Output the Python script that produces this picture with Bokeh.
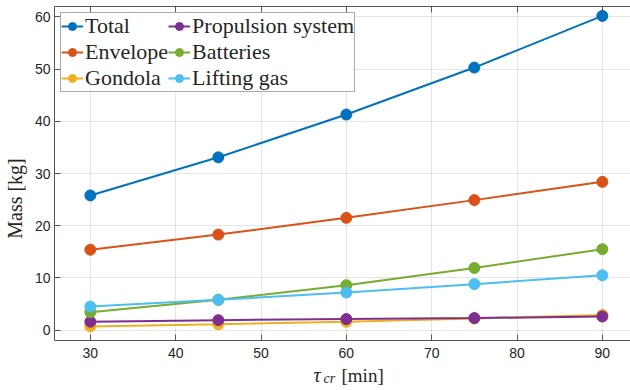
from bokeh.plotting import figure
from bokeh.models import Range1d, LinearAxis, Label, Legend, LegendItem, FixedTicker, BoxAnnotation
from bokeh.embed import file_html
from bokeh.resources import INLINE

tau = [30, 45, 60, 75, 90]
total = [25.8, 33.1, 41.3, 50.3, 60.2]
envelope = [15.4, 18.3, 21.5, 24.9, 28.4]
gondola = [0.7, 1.1, 1.6, 2.2, 2.9]
propulsion = [1.6, 1.9, 2.1, 2.3, 2.6]
batteries = [3.4, 5.8, 8.6, 11.9, 15.5]
lifting_gas = [4.5, 5.8, 7.2, 8.8, 10.5]

series = [
    ("Total", total, "#0072BD"),
    ("Envelope", envelope, "#D95319"),
    ("Gondola", gondola, "#EDB120"),
    ("Propulsion system", propulsion, "#7E2F8E"),
    ("Batteries", batteries, "#77AC30"),
    ("Lifting gas", lifting_gas, "#4DBEEE"),
]
x_ticks = [30, 40, 50, 60, 70, 80, 90]
y_ticks = [0, 10, 20, 30, 40, 50, 60]
x_lim = (25.8, 93.3)
y_lim = (-2, 62)

AX = "#262626"
SERIF = "Liberation Serif"
SANS = "Liberation Sans"

# frame reaches the canvas bottom; the x axis sits at y_lim[0] inside it
y_start = y_lim[0] - 50 / ((340 - 6) / (y_lim[1] - y_lim[0]))
p = figure(width=630, height=390, output_backend="svg", toolbar_location=None,
           x_range=Range1d(*x_lim), y_range=Range1d(y_start, y_lim[1]),
           min_border_left=54, min_border_right=0, min_border_top=6, min_border_bottom=0)
p.background_fill_color = "white"
p.border_fill_color = "white"
p.outline_line_color = None

p.xaxis.fixed_location = y_lim[0]
p.yaxis.bounds = y_lim

for ax, ticks in ((p.xaxis[0], x_ticks), (p.yaxis[0], y_ticks)):
    ax.ticker = FixedTicker(ticks=ticks)
    ax.major_tick_in = 6
    ax.major_tick_out = 0
    ax.minor_tick_line_color = None
    ax.axis_line_color = "#555555"
    ax.major_tick_line_color = "#555555"
    ax.major_label_text_font = SANS
    ax.major_label_text_font_size = "14px"
    ax.major_label_text_color = AX

p.xaxis.major_label_standoff = 7
p.yaxis.major_label_standoff = 4
p.yaxis.axis_label = "Mass [kg]"
p.yaxis.axis_label_text_font = SERIF
p.yaxis.axis_label_text_font_size = "20px"
p.yaxis.axis_label_text_font_style = "normal"
p.yaxis.axis_label_text_color = AX
p.yaxis.axis_label_standoff = 6

top = LinearAxis(ticker=FixedTicker(ticks=x_ticks), major_tick_in=6, major_tick_out=0,
                 major_label_text_color=None, major_label_text_font_size="1px",
                 major_label_standoff=0,
                 axis_line_color="#555555", major_tick_line_color="#555555",
                 minor_tick_line_color=None)
p.add_layout(top, "above")

p.grid.grid_line_color = AX
p.grid.grid_line_alpha = 0.12
p.xgrid.ticker = FixedTicker(ticks=x_ticks)
p.ygrid.ticker = FixedTicker(ticks=y_ticks)

# blank out the grid below the x axis
p.add_layout(BoxAnnotation(top=y_lim[0], fill_color="white", fill_alpha=1.0,
                           line_color=None, level="underlay"))

items = []
for name, vals, col in series:
    l = p.line(tau, vals, line_color=col, line_width=2)
    c = p.scatter(tau, vals, size=11, fill_color=col, line_color=col)
    items.append(LegendItem(label=name, renderers=[l, c]))

leg = Legend(items=items, location="top_left", nrows=3)
leg.label_text_font = SERIF
leg.label_text_font_style = "normal"
leg.label_text_font_size = "22px"
leg.label_text_color = AX
leg.glyph_width = 22
leg.glyph_height = 20
leg.label_standoff = 2
leg.spacing = 0
leg.padding = 0
leg.margin = 6
leg.border_line_color = "#555555"
leg.border_line_width = 1
leg.background_fill_alpha = 1.0
leg.label_height = 20
p.add_layout(leg)

for txt, xx, yy, size, style in (("τ", 313, 374, "20px", "italic"),
                                  ("cr", 323, 378, "14px", "italic"),
                                  ("[min]", 341, 375, "19px", "normal")):
    p.add_layout(Label(x=xx, y=yy, x_units="canvas", y_units="canvas", text=txt,
                       text_font=SERIF, text_font_style=style, text_font_size=size,
                       text_color=AX, text_baseline="middle", text_align="left"))

open("out.html", "w").write(file_html(p, INLINE))
